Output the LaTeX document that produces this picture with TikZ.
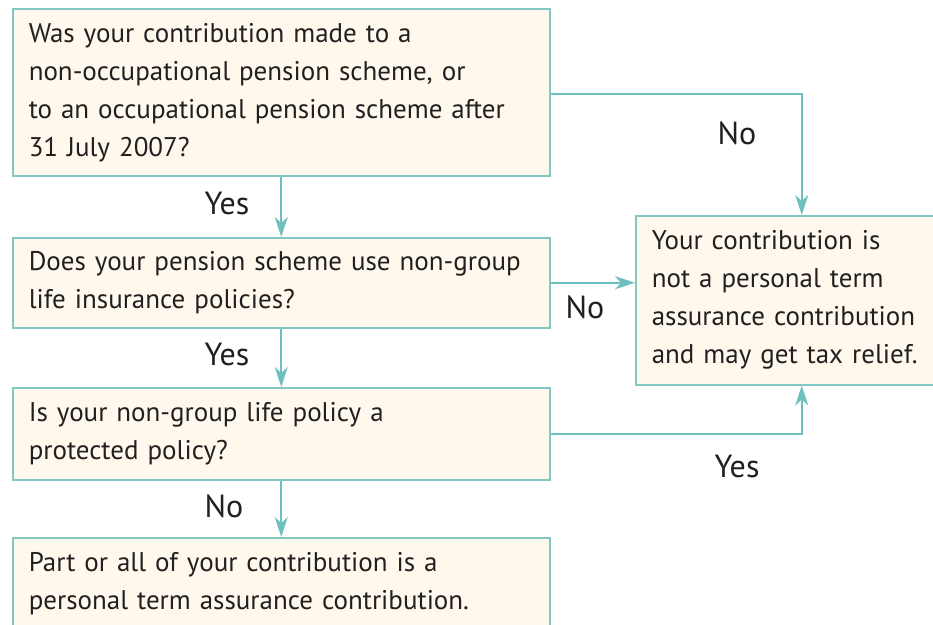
\documentclass[tikz,border=0pt]{standalone}
\usepackage{fontspec}
\setmainfont{PT Sans}
\usetikzlibrary{arrows.meta}
\definecolor{boxfill}{HTML}{FEF9EC}
\definecolor{boxline}{HTML}{82C6C6}
\definecolor{arrowcol}{HTML}{6EBFC0}
\definecolor{txt}{HTML}{231F20}
\begin{document}
\begin{tikzpicture}[x=1pt,y=1pt,
  qbox/.style={draw=boxline, fill=boxfill, line width=1.5pt, rectangle, anchor=north west,
    align=left, inner xsep=16pt, inner ysep=0pt, text=txt,
    font=\fontsize{27}{38}\selectfont},
  lbl/.style={text=txt, font=\fontsize{32}{34}\selectfont, inner sep=0pt},
  conn/.style={draw=arrowcol, line width=2pt, -{Stealth[length=20pt,width=13pt,inset=6pt]}}]
\useasboundingbox (0,0) rectangle (933,-624);
\clip (0,0) rectangle (933,-624);
\node[qbox, text width=505pt, minimum height=167pt] (A) at (12,-8)
  {Was your contribution made to a\\non-occupational pension scheme, or\\to an occupational pension scheme after\\31 July 2007?};
\node[qbox, text width=505pt, minimum height=90pt] (B) at (12,-237)
  {Does your pension scheme use non-group\\life insurance policies?};
\node[qbox, text width=505pt, minimum height=92pt] (C) at (12,-387)
  {Is your non-group life policy a\\protected policy?};
\node[qbox, text width=505pt, minimum height=91pt] (D) at (12,-537)
  {Part or all of your contribution is a\\personal term assurance contribution.};
\node[qbox, text width=300pt, minimum height=169pt] (E) at (635,-215)
  {Your contribution is\\not a personal term\\assurance contribution\\and may get tax relief.};
\draw[conn] ([yshift=-1.5pt]A.east) -| (E.north);
\draw[conn] (A.south) -- (B.north);
\draw[conn] (B.east) -- (E.west |- B.east);
\draw[conn] (B.south) -- (C.north);
\draw[conn] (C.east) -| (E.south);
\draw[conn] (C.south) -- (D.north);
\node[lbl] (l1) at (737,-133) {No};
\node[lbl] (l2) at (227,-203) {Yes};
\node[lbl] (l3) at (585,-307) {No};
\node[lbl] (l4) at (227,-354) {Yes};
\node[lbl] (l5) at (737,-466) {Yes};
\node[lbl] (l6) at (224,-506) {No};
\end{tikzpicture}
\end{document}
